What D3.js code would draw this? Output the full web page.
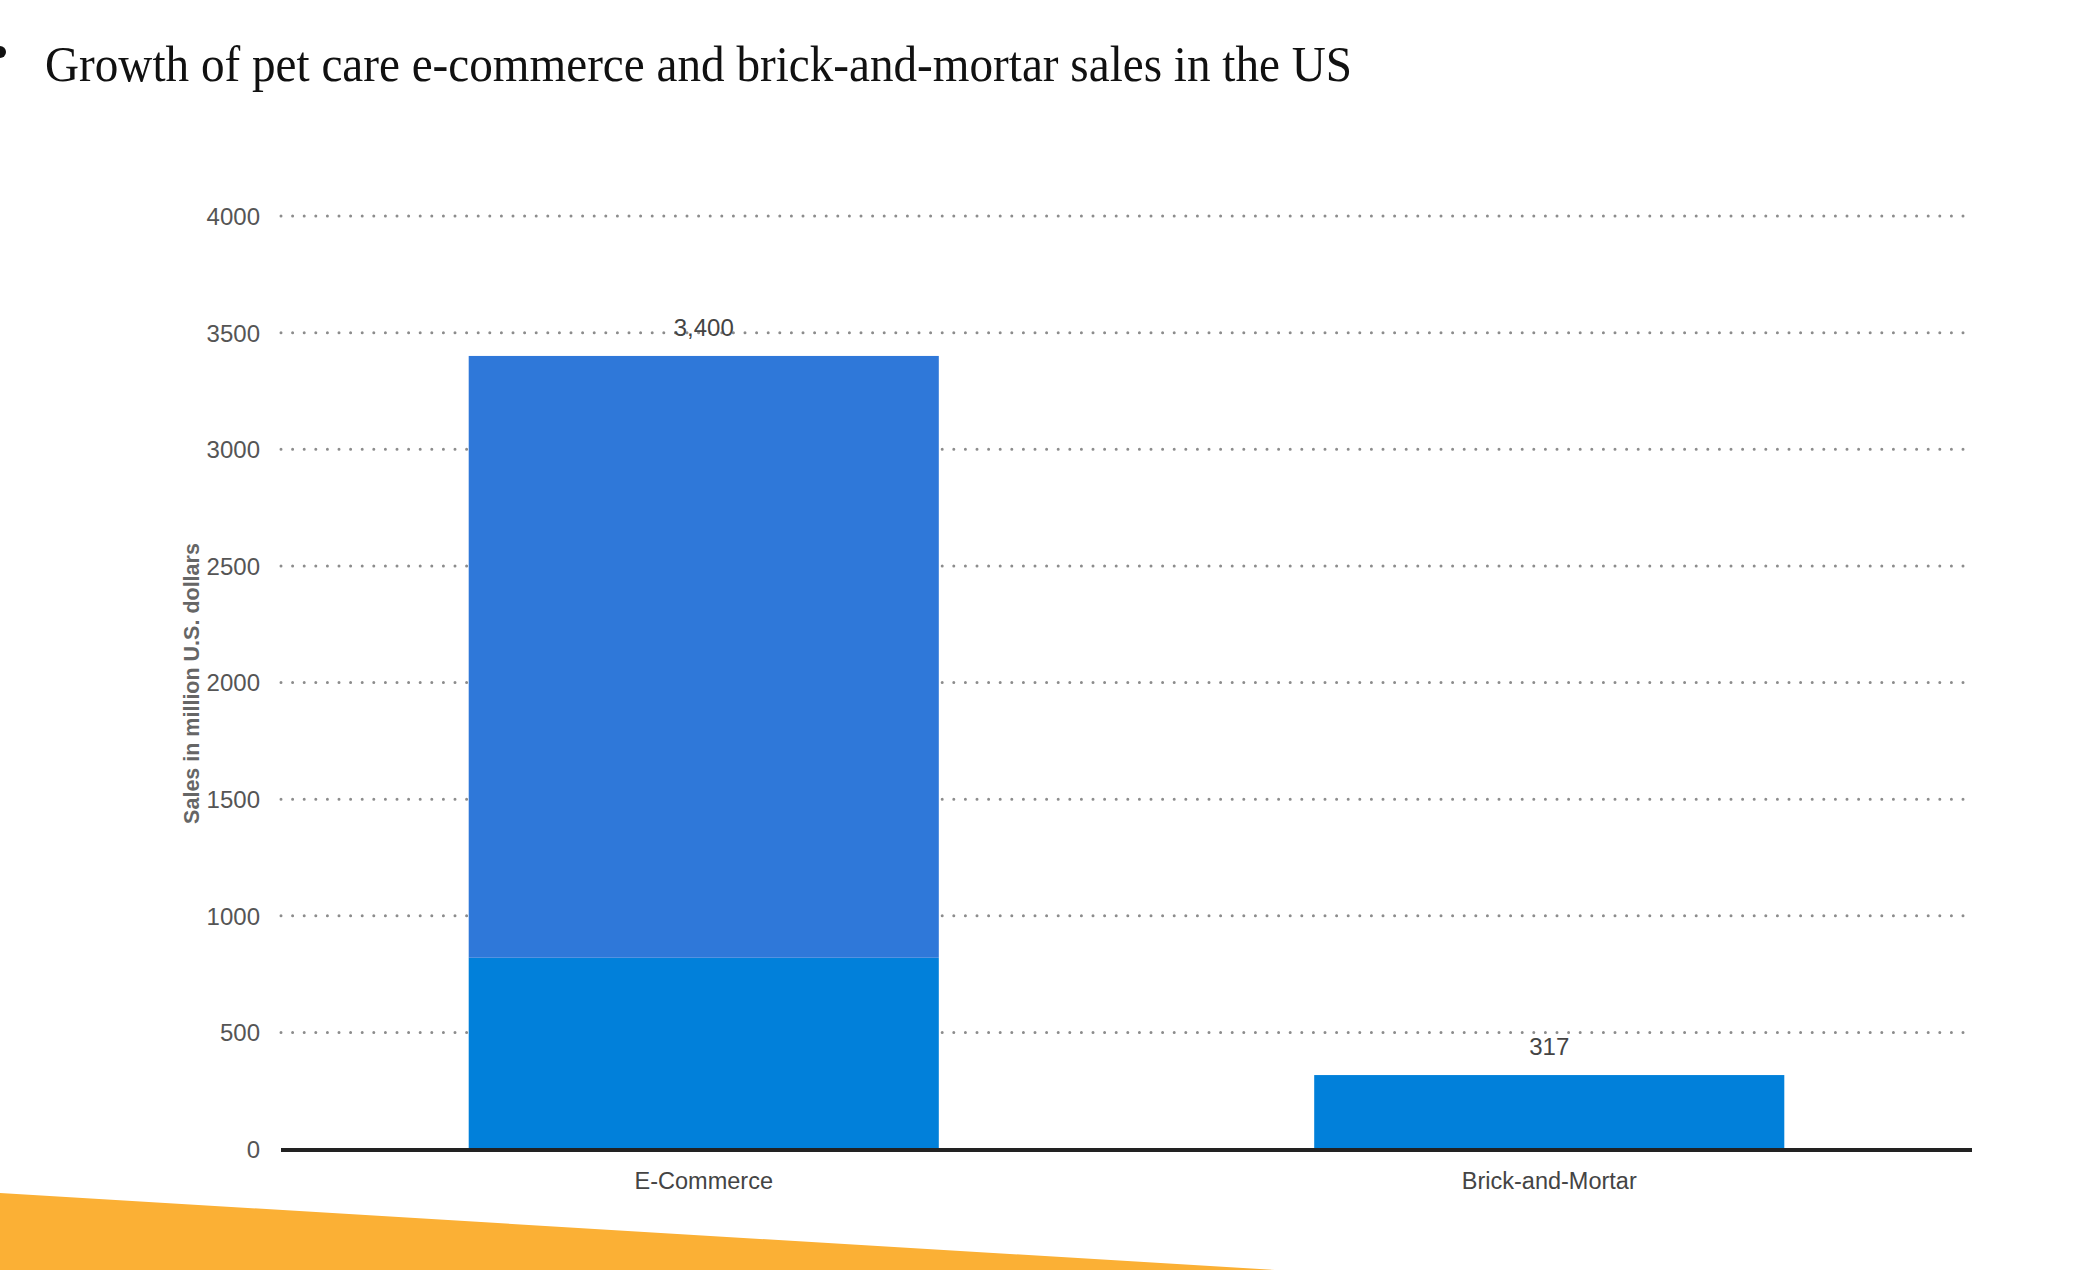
<!DOCTYPE html>
<html>
<head>
<meta charset="utf-8">
<script src="https://cdn.jsdelivr.net/npm/d3@7"></script>
<style>
  html, body { margin: 0; padding: 0; background: #fff; }
  svg { display: block; }
</style>
</head>
<body>
<script>
// ---- data ----
const titleText = "Growth of pet care e-commerce and brick-and-mortar sales in the US";
const yAxisTitle = "Sales in million U.S. dollars";
const categories = ["E-Commerce", "Brick-and-Mortar"];
const totals = [3400, 317];
const valueLabels = ["3,400", "317"];
// the bars are drawn in two tones: a darker lower part and a lighter upper part
const lowerPart = [820, 317];
const upperPart = [2580, 0];
const yTicks = [0, 500, 1000, 1500, 2000, 2500, 3000, 3500, 4000];

// ---- layout ----
const W = 2078, H = 1270;
const plot = { left: 281, right: 1972, top: 216, bottom: 1149 };

const svg = d3.select("body").append("svg")
  .attr("width", W).attr("height", H)
  .style("background", "#fff");

// decorative orange band at bottom
svg.append("polygon")
  .attr("points", `0,1193 1275,1270 0,1270`)
  .attr("fill", "#fbb035");

// bullet
svg.append("circle").attr("cx", 0).attr("cy", 52).attr("r", 6).attr("fill", "#111");

// title
svg.append("text")
  .attr("x", 45).attr("y", 81)
  .attr("font-family", "'Liberation Serif', 'DejaVu Serif', serif")
  .attr("font-size", 50)
  .attr("fill", "#111")
  .attr("textLength", 1307)
  .attr("lengthAdjust", "spacingAndGlyphs")
  .text(titleText);

const x = d3.scaleBand().domain(categories).range([plot.left, plot.right]).padding(0);
const y = d3.scaleLinear().domain([0, 4000]).range([plot.bottom, plot.top]);
const barW = x.bandwidth() * 0.556;

// gridlines
svg.append("g")
  .selectAll("line")
  .data(yTicks.filter(d => d > 0))
  .join("line")
  .attr("x1", plot.left).attr("x2", plot.right - 3)
  .attr("y1", d => y(d)).attr("y2", d => y(d))
  .attr("stroke", "#8c8c8c")
  .attr("stroke-width", 3)
  .attr("stroke-linecap", "round")
  .attr("stroke-dasharray", "0 11.6");

// y axis labels via d3 axis
const yAxis = d3.axisLeft(y).tickValues(yTicks).tickSize(0).tickPadding(0).tickFormat(d3.format("d"));
const gy = svg.append("g").attr("transform", `translate(260,0)`).call(yAxis);
gy.select(".domain").remove();
gy.selectAll("text")
  .attr("font-family", "'Liberation Sans', Arial, sans-serif")
  .attr("font-size", 24)
  .attr("fill", "#555")
  .attr("dy", "0.35em");

// y-axis title
svg.append("text")
  .attr("transform", `translate(199,${(543 + 824) / 2}) rotate(-90)`)
  .attr("text-anchor", "middle")
  .attr("font-family", "'Liberation Sans', Arial, sans-serif")
  .attr("font-size", 21.5)
  .attr("font-weight", "bold")
  .attr("fill", "#666")
  .text(yAxisTitle);

// stacked bars
const rows = categories.map((c, i) => ({ cat: c, lower: lowerPart[i], upper: upperPart[i] }));
const stack = d3.stack().keys(["lower", "upper"])(rows);
const colors = { lower: "#0180da", upper: "#2f78d9" };

svg.append("g")
  .selectAll("g")
  .data(stack)
  .join("g")
  .attr("fill", s => colors[s.key])
  .selectAll("rect")
  .data(s => s)
  .join("rect")
  .attr("x", d => x(d.data.cat) + (x.bandwidth() - barW) / 2)
  .attr("width", barW)
  .attr("y", d => y(d[1]))
  .attr("height", d => y(d[0]) - y(d[1]));

// baseline
svg.append("line")
  .attr("x1", plot.left).attr("x2", plot.right)
  .attr("y1", y(0) + 1).attr("y2", y(0) + 1)
  .attr("stroke", "#222").attr("stroke-width", 4);

// value labels
svg.append("g")
  .selectAll("text")
  .data(categories)
  .join("text")
  .attr("x", d => x(d) + x.bandwidth() / 2)
  .attr("y", (d, i) => y(totals[i]) - 20)
  .attr("text-anchor", "middle")
  .attr("font-family", "'Liberation Sans', Arial, sans-serif")
  .attr("font-size", 24)
  .attr("fill", "#444")
  .text((d, i) => valueLabels[i]);

// x axis labels
const xAxis = d3.axisBottom(x).tickSize(0).tickPadding(0);
const gx = svg.append("g").attr("transform", `translate(0,${y(0) + 40})`).call(xAxis);
gx.select(".domain").remove();
gx.selectAll("text")
  .attr("font-family", "'Liberation Sans', Arial, sans-serif")
  .attr("font-size", 23.5)
  .attr("fill", "#444")
  .attr("dy", "0");
</script>
</body>
</html>
